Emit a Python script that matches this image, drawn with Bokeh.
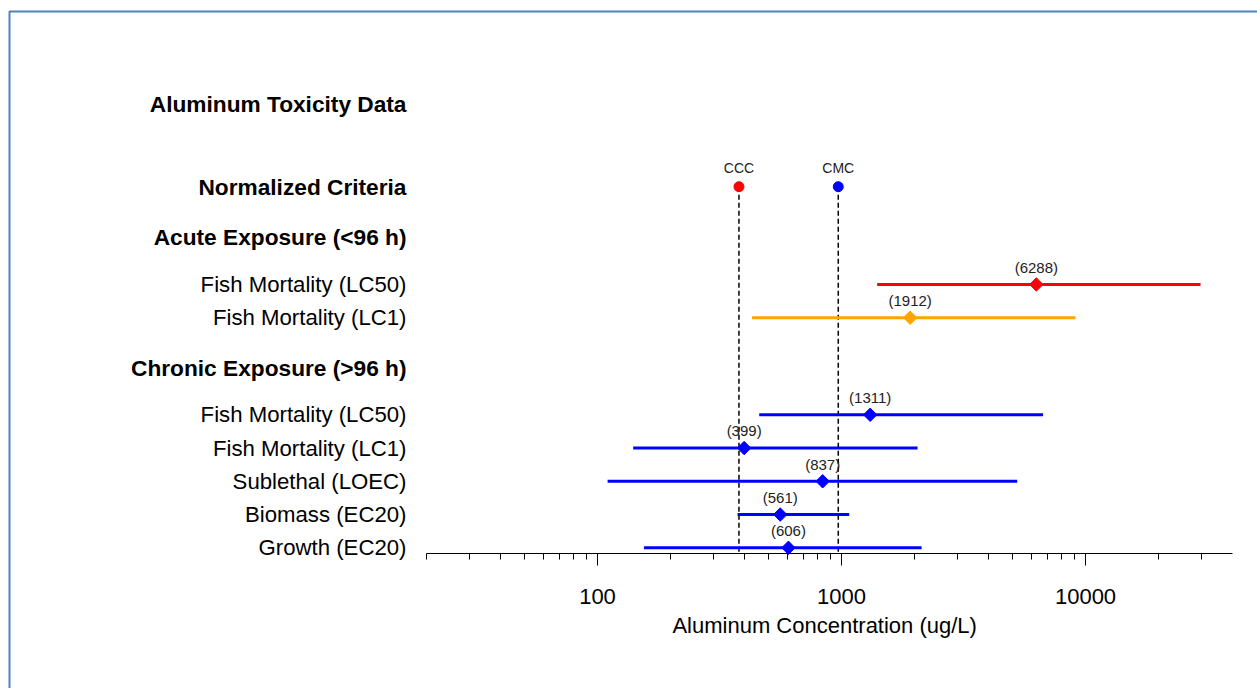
import math
from bokeh.plotting import figure
from bokeh.models import ColumnDataSource, LabelSet, Range1d, FixedTicker, BoxAnnotation
from bokeh.core.properties import value
from bokeh.embed import file_html
from bokeh.resources import INLINE

# ---------------- data ----------------
title_text = "Aluminum Toxicity Data"
criteria_header = "Normalized Criteria"
acute_header = "Acute Exposure (<96 h)"
chronic_header = "Chronic Exposure (>96 h)"

acute_labels = ["Fish Mortality (LC50)", "Fish Mortality (LC1)"]
acute_values = [6288, 1912]
acute_low = [1400, 430]
acute_high = [29600, 9100]

chronic_labels = ["Fish Mortality (LC50)", "Fish Mortality (LC1)", "Sublethal (LOEC)",
                  "Biomass (EC20)", "Growth (EC20)"]
chronic_values = [1311, 399, 837, 561, 606]
chronic_low = [460, 140, 110, 375, 155]
chronic_high = [6700, 2050, 5250, 1075, 2130]

criteria_names = ["CCC", "CMC"]
criteria_values = [380, 970]

tick_values = [100, 1000, 10000]
tick_labels = ["100", "1000", "10000"]
minor_tick_values = [20, 30, 40, 50, 60, 70, 80, 90,
                     200, 300, 400, 500, 600, 700, 800, 900,
                     2000, 3000, 4000, 5000, 6000, 7000, 8000, 9000,
                     20000, 30000]
axis_bounds = (20, 40000)
axis_title = "Aluminum Concentration (ug/L)"

# ---------------- styles ----------------
FONT = "Liberation Sans"
acute_colors = ["#ff0000", "#ffa500"]
chronic_color = "#0000ff"
criteria_colors = ["#ff0000", "#0000ff"]

# ---------------- row layout (in row units) ----------------
n_chr = len(chronic_labels)
chronic_y = [n_chr - i for i in range(n_chr)]
chronic_header_y = chronic_y[0] + 1.42
acute_y = [chronic_header_y + 1.5 + (len(acute_labels) - 1 - i) for i in range(len(acute_labels))]
acute_header_y = acute_y[0] + 1.44
criteria_y = acute_header_y + 1.5
title_y = criteria_y + 2.5

ROW_PX = 33.25
DECADE_PX = 244
AXIS_Y = 0.829                     # row coordinate where the x axis sits
Y_START = AXIS_Y - 135 / ROW_PX    # bottom of canvas
Y_END = 17.46
axis_title_y = AXIS_Y - 72 / ROW_PX
axis_title_x = math.sqrt(axis_bounds[0] * axis_bounds[1]) * 10 ** (-5 / DECADE_PX)

p = figure(width=1257, height=688, x_axis_type="log",
           x_range=Range1d(0.3576, 50680), y_range=Range1d(Y_START, Y_END),
           output_backend="svg", toolbar_location=None,
           min_border_left=0, min_border_right=0, min_border_top=0, min_border_bottom=0,
           y_axis_location=None)
p.grid.visible = False
p.outline_line_color = None
p.background_fill_color = "white"
p.border_fill_color = "white"

# ---------------- axis ----------------
ax = p.xaxis[0]
ax.fixed_location = AXIS_Y
ax.ticker = FixedTicker(ticks=tick_values, minor_ticks=minor_tick_values)
ax.major_label_overrides = {t: l for t, l in zip(tick_values, tick_labels)}
ax.bounds = axis_bounds
ax.axis_line_color = "black"
ax.axis_line_width = 1
ax.major_tick_in = 0
ax.major_tick_out = 12
ax.minor_tick_in = 0
ax.minor_tick_out = 6
ax.major_tick_line_color = "black"
ax.minor_tick_line_color = "black"
ax.major_label_text_font = FONT
ax.major_label_text_font_size = "22px"
ax.major_label_text_color = "black"
ax.major_label_standoff = 24

title_src = ColumnDataSource(dict(x=[axis_title_x], y=[axis_title_y], t=[axis_title]))
p.text(x="x", y="y", text="t", source=title_src, text_font=value(FONT),
       text_font_size="22px", text_align="center", text_baseline="middle",
       text_color="black")

# ---------------- criteria ----------------
crit_src = ColumnDataSource(dict(x=criteria_values, name=criteria_names, color=criteria_colors,
                                 y=[criteria_y] * len(criteria_values),
                                 y_bottom=[AXIS_Y] * len(criteria_values),
                                 y_lab=[criteria_y + 0.57] * len(criteria_values)))
p.segment(x0="x", y0="y", x1="x", y1="y_bottom", source=crit_src,
          line_color="black", line_width=1.5, line_dash="5 3")
p.scatter(x="x", y="y", source=crit_src, marker="circle", size=10,
          fill_color="color", line_color="color")
p.text(x="x", y="y_lab", text="name", source=crit_src, text_font=value(FONT),
       text_font_size="14px", text_align="center", text_baseline="middle",
       text_color="#222222")

# ---------------- ranges ----------------
all_y = acute_y + chronic_y
all_val = acute_values + chronic_values
all_low = acute_low + chronic_low
all_high = acute_high + chronic_high
all_col = acute_colors + [chronic_color] * n_chr
rng_src = ColumnDataSource(dict(y=all_y, v=all_val, lo=all_low, hi=all_high, color=all_col,
                                lab=["(%d)" % v for v in all_val],
                                y_lab=[y + 0.52 for y in all_y]))
p.segment(x0="lo", y0="y", x1="hi", y1="y", source=rng_src, line_color="color", line_width=3)
p.scatter(x="v", y="y", source=rng_src, marker="square", angle=math.pi / 4, size=9.5,
          fill_color="color", line_color="color")
p.text(x="v", y="y_lab", text="lab", source=rng_src, text_font=value(FONT),
       text_font_size="15px", text_align="center", text_baseline="middle",
       text_color="#222222")

# ---------------- left labels ----------------
reg_src = ColumnDataSource(dict(y=all_y, label=acute_labels + chronic_labels))
bold_src = ColumnDataSource(dict(y=[title_y, criteria_y, acute_header_y, chronic_header_y],
                                 label=[title_text, criteria_header, acute_header, chronic_header]))
p.add_layout(LabelSet(x=406, x_units="screen", y="y", text="label", source=reg_src,
                      text_font=value(FONT), text_font_size="22.2px", text_align="right",
                      text_baseline="middle", text_color="black"))
p.add_layout(LabelSet(x=406, x_units="screen", y="y", text="label", source=bold_src,
                      text_font=value(FONT), text_font_size="22.7px", text_font_style="bold",
                      text_align="right", text_baseline="middle", text_color="black"))

# ---------------- border ----------------
p.add_layout(BoxAnnotation(left=9, right=1400, top=11, bottom=900,
                           left_units="canvas", right_units="canvas",
                           top_units="canvas", bottom_units="canvas",
                           fill_alpha=0, line_color="#4f81bd", line_alpha=1.0, line_width=2))

open("out.html", "w").write(file_html(p, INLINE))
